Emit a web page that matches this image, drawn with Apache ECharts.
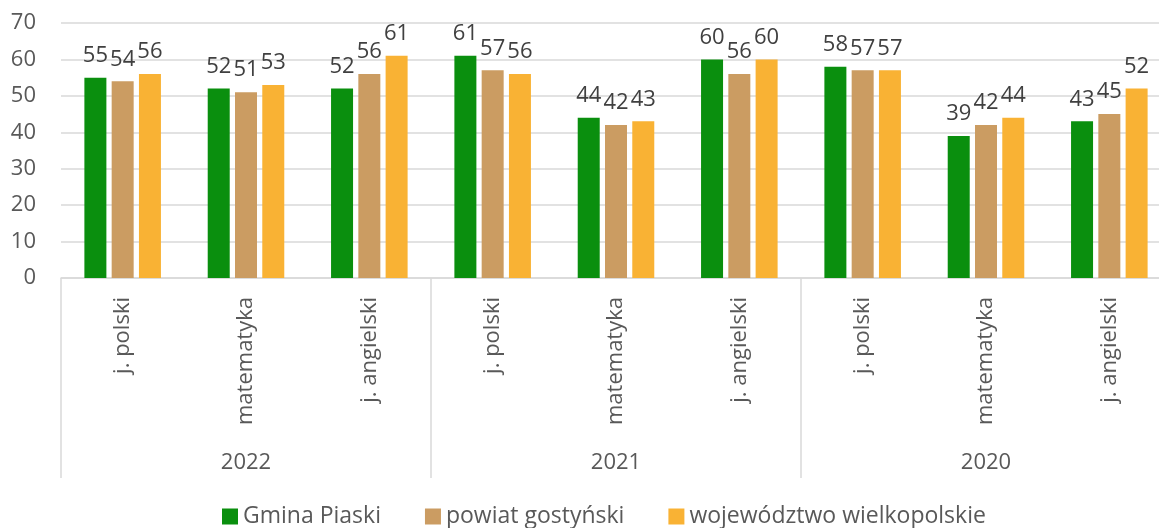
<!DOCTYPE html>
<html>
<head>
<meta charset="utf-8">
<script src="https://cdn.jsdelivr.net/npm/echarts@6/dist/echarts.min.js"></script>
<style>html,body{margin:0;padding:0;background:#fff;overflow:hidden;width:1159px;height:528px;}#c{width:1171px;height:528px;}</style>
</head>
<body>
<div id="c"></div>
<script>
const subjects = ['j. polski','matematyka','j. angielski','j. polski','matematyka','j. angielski','j. polski','matematyka','j. angielski'];
const years = ['2022','2021','2020'];
const seriesNames = ['Gmina Piaski','powiat gostyński','województwo wielkopolskie'];
const gmina = [55,52,52,61,44,60,58,39,43];
const powiat = [54,51,56,57,42,56,57,42,45];
const woj = [56,53,61,56,43,60,57,44,52];
const yTicks = [0,10,20,30,40,50,60,70];

const colors = ['#0A8F0E','#CB9C62','#F9B234'];
const font = '"Open Sans", "Noto Sans", sans-serif';
const chart = echarts.init(document.getElementById('c'));
const mk = (name, data, i) => ({
  name, type:'bar', data, xAxisIndex:0, barWidth:22, barGap:'24%',
  itemStyle:{color:colors[i]},
  label:{show:true, position:'top', distance:11, fontSize:22, color:'#404040', fontFamily:font}
});
chart.setOption({
  animation:false,
  textStyle:{fontFamily:font},
  grid:{left:61, top:23, right:0, height:255, containLabel:false},
  legend:{
    left:222, top:505, padding:0, itemWidth:16, itemHeight:16, itemGap:44,
    icon:'rect',
    textStyle:{fontSize:23, color:'#595959', fontFamily:font},
    data:seriesNames
  },
  xAxis:[
    {type:'category', data:subjects, position:'bottom',
     axisLine:{show:true, lineStyle:{color:'#d9d9d9', width:1.5}},
     axisTick:{show:false},
     axisLabel:{rotate:90, margin:19, fontSize:22, color:'#595959', fontFamily:font, interval:0}},
    {type:'category', data:years, position:'bottom',
     axisLine:{show:false},
     axisTick:{show:true, length:200, interval:0, lineStyle:{color:'#d9d9d9', width:1.5}},
     axisLabel:{margin:174, fontSize:22, color:'#595959', fontFamily:font, interval:0}}
  ],
  yAxis:{type:'value', min:0, max:70, interval:10,
    axisLine:{show:false}, axisTick:{show:false},
    splitLine:{lineStyle:{color:'#d9d9d9', width:1.5}},
    axisLabel:{margin:25, fontSize:22, color:'#595959', fontFamily:font,
      formatter:v => yTicks.includes(v) ? String(v) : ''}},
  series:[mk(seriesNames[0],gmina,0), mk(seriesNames[1],powiat,1), mk(seriesNames[2],woj,2)]
});
</script>
</body>
</html>
